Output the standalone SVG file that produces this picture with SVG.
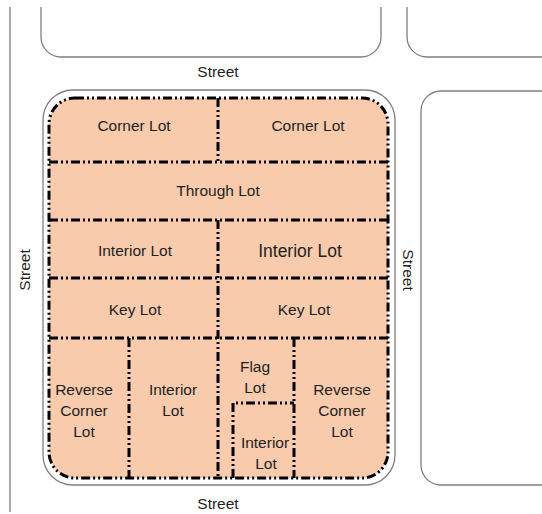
<svg xmlns="http://www.w3.org/2000/svg" width="542" height="514" viewBox="0 0 542 514">
<style>
.blk{fill:#fff;stroke:#7f7f7f;stroke-width:1.3}
.lot{fill:none;stroke:#000;stroke-width:3;stroke-dasharray:9 3 2 3 2 3}
text{font-family:"Liberation Sans",Arial,sans-serif;font-size:15.5px;fill:#1f1f1f;text-anchor:middle}
</style>
<rect width="542" height="514" fill="#fff"/>
<g id="blocks">
<line x1="10" y1="7" x2="10" y2="512" stroke="#8c8c8c" stroke-width="1.5"/>
<path id="block-top-left" class="blk" d="M41,7 V37 a20,20 0 0 0 20,20 H361 a20,20 0 0 0 20,-20 V7"/>
<path id="block-top-right" class="blk" d="M407,7 V37 a20,20 0 0 0 20,20 H545"/>
<path id="block-right" class="blk" d="M545,91 H441 a20,20 0 0 0 -20,20 V465 a20,20 0 0 0 20,20 H545"/>
<rect id="block-main" class="blk" x="43" y="90" width="352" height="395" rx="30"/>
</g>
<g id="lots">
<rect x="49" y="98" width="339" height="380" rx="26" fill="#F8CBAD"/>
</g>
<g id="connectors">
<rect class="lot" x="49" y="98" width="339" height="380" rx="26"/>
<path class="lot" d="M218,98 V162"/>
<path class="lot" d="M49,162 H388"/>
<path class="lot" d="M49,220 H388"/>
<path class="lot" d="M218,220 V478"/>
<path class="lot" d="M49,278 H388"/>
<path class="lot" d="M49,338 H388"/>
<path class="lot" d="M129,338 V478"/>
<path class="lot" d="M294,338 V478"/>
<path class="lot" d="M233,478 V403 H294"/>
</g>
<g id="labels">
<text x="218" y="77">Street</text>
<text x="218" y="509">Street</text>
<text transform="translate(30,270) rotate(-90)">Street</text>
<text transform="translate(403,270) rotate(90)">Street</text>
</g>
<g id="lot-corner-left"><text x="134" y="131">Corner Lot</text></g>
<g id="lot-corner-right"><text x="308" y="131">Corner Lot</text></g>
<g id="lot-through"><text x="218" y="196">Through Lot</text></g>
<g id="lot-interior-left"><text x="135" y="256">Interior Lot</text></g>
<g id="lot-interior-right"><text x="300" y="257" style="font-size:17.5px">Interior Lot</text></g>
<g id="lot-key-left"><text x="135" y="315">Key Lot</text></g>
<g id="lot-key-right"><text x="304" y="315">Key Lot</text></g>
<g id="lot-reverse-left"><text x="84" y="395">Reverse</text><text x="84" y="416">Corner</text><text x="84" y="437">Lot</text></g>
<g id="lot-interior-bottom"><text x="173" y="395">Interior</text><text x="173" y="416">Lot</text></g>
<g id="lot-flag"><text x="255" y="372">Flag</text><text x="255" y="393">Lot</text></g>
<g id="lot-interior-flag"><text x="265" y="448">Interior</text><text x="266" y="469">Lot</text></g>
<g id="lot-reverse-right"><text x="342" y="395">Reverse</text><text x="342" y="416">Corner</text><text x="342" y="437">Lot</text></g>
</svg>
